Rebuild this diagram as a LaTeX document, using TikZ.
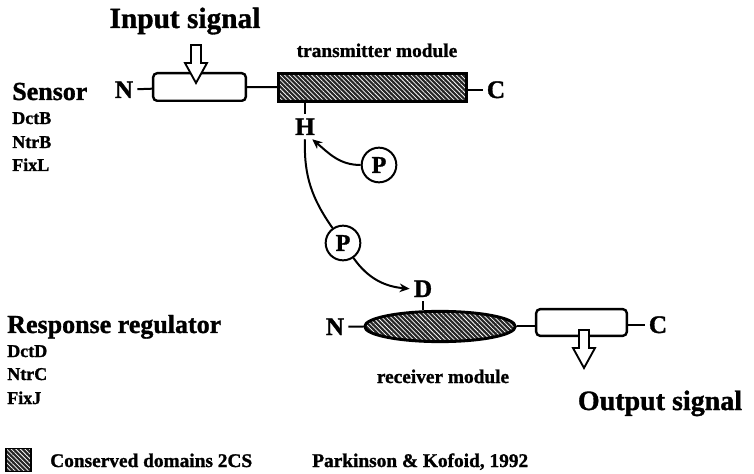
\documentclass[tikz,border=0pt]{standalone}
\usepackage{fontspec}
\setmainfont{Liberation Serif}[BoldFeatures={FakeBold=1.2}]
\usetikzlibrary{arrows.meta,shapes.geometric,patterns.meta}

\begin{document}
\begin{tikzpicture}[
    x=0.75pt,y=-0.75pt,
    arco/.style={draw=black,line width=1.5pt},
    freccia/.style={arco,-{Stealth[length=7.5pt,width=6.5pt]}},
    vuota/.style={draw=black,line width=1.4pt,fill=white,line join=miter},
    tratteggio/.style={preaction={fill=black!85},
      pattern={Lines[angle=-45,distance=2.4pt,line width=0.55pt]},pattern color=white},
    dominio/.style={draw=black,line width=1.8pt,fill=white,rounded corners=3pt,inner sep=0pt},
    conservato/.style={tratteggio,draw=black,line width=2.2pt,inner sep=0pt},
    fosfato/.style={circle,draw=black,line width=1.5pt,fill=white,minimum size=26pt,
      inner sep=0pt,font=\bfseries\fontsize{18}{18}\selectfont},
    lettera/.style={anchor=base,inner sep=3pt,font=\bfseries\fontsize{19}{19}\selectfont},
    titolo/.style={anchor=base,inner sep=0pt,font=\bfseries\fontsize{22}{22}\selectfont},
    classe/.style={anchor=base west,inner sep=0pt,font=\bfseries\fontsize{19.5}{20}\selectfont},
    proteina/.style={anchor=base west,inner sep=0pt,font=\bfseries\fontsize{13.5}{14}\selectfont},
    didascalia/.style={anchor=base,inner sep=0pt,font=\bfseries\fontsize{14.5}{15}\selectfont}]

  \useasboundingbox (0,0) rectangle (754,474);

  % ---- sensore ---------------------------------------------------------
  \node[titolo]     (ingresso) at (185,28)  {Input signal};
  \node[didascalia] (trasmLab) at (377,57)  {transmitter module};

  \node[classe]   (sensore) at (12,100) {Sensor};
  \node[proteina] (dctB)    at (12,124) {DctB};
  \node[proteina] (ntrB)    at (12,148) {NtrB};
  \node[proteina] (fixL)    at (12,171) {FixL};

  \node[lettera] (nS) at (124,98) {N};
  \node[dominio,minimum width=69.5pt,minimum height=20.7pt] (boxS) at (199.5,87) {};
  \node[conservato,minimum width=141pt,minimum height=21pt] (trasm) at (372.5,87.5) {};
  \node[lettera] (cS) at (496,98)  {C};
  \node[lettera] (hS) at (305,135) {H};

  \draw[arco] (nS) -- (boxS);
  \draw[arco] (boxS) -- (trasm);
  \draw[arco] (trasm.east |- cS) -- (cS);
  \draw[arco] (hS.north |- trasm.south) -- (hS.north);   % istidina

  % freccia vuota del segnale in ingresso
  \draw[vuota] (191,45) -- (201,45) -- (201,63) -- (207,63) -- (196,83)
               -- (185,63) -- (191,63) -- cycle;

  % ---- regolatore di risposta ------------------------------------------
  \node[classe]   (regolatore) at (7,333) {Response regulator};
  \node[proteina] (dctD)       at (7,357) {DctD};
  \node[proteina] (ntrC)       at (7,380) {NtrC};
  \node[proteina] (fixJ)       at (7,404) {FixJ};

  \node[lettera] (dR) at (423,297) {D};
  \node[conservato,ellipse,minimum width=113pt,minimum height=22.7pt] (ricev) at (440,326.5) {};
  \node[lettera] (nR) at (335,335) {N};
  \node[dominio,minimum width=68pt,minimum height=20pt] (boxR) at (581.5,322.5) {};
  \node[lettera] (cR) at (658,333) {C};

  \node[didascalia] (ricevLab) at (443,383) {receiver module};
  \node[titolo,font=\bfseries\fontsize{21}{21}\selectfont] (uscita) at (660,410) {Output signal};

  \draw[arco] (nR) -- (ricev);
  \draw[arco] (ricev.east) -- (ricev.east -| boxR.west);
  \draw[arco] (boxR.east |- cR) -- (cR);
  \draw[arco] (dR.south) -- (dR.south |- ricev.north);   % aspartato

  % freccia vuota del segnale in uscita
  \draw[vuota] (579,330) -- (589,330) -- (589,348) -- (595,348) -- (584,368)
               -- (573,348) -- (579,348) -- cycle;

  % ---- fosfato: da H a D ------------------------------------------------
  \node[fosfato] (p1) at (379,165) {P};
  \node[fosfato] (p2) at (343,243) {P};

  \draw[freccia] (p1) to[out=180,in=-40] (hS.-60);
  \draw[arco] (hS.south) to[out=-92,in=125] (p2);
  \draw[freccia] (p2) to[out=-55,in=175] (dR.west);

  % ---- legenda ---------------------------------------------------------
  \node[conservato,line width=1.2pt,minimum width=19pt,minimum height=17.5pt] (legenda) at (18.5,460) {};
  \node[didascalia,anchor=base west] (legendaLab) at (50,467)  {Conserved domains 2CS};
  \node[didascalia,anchor=base west] (fonte)      at (312,467) {Parkinson \& Kofoid, 1992};

\end{tikzpicture}
\end{document}
